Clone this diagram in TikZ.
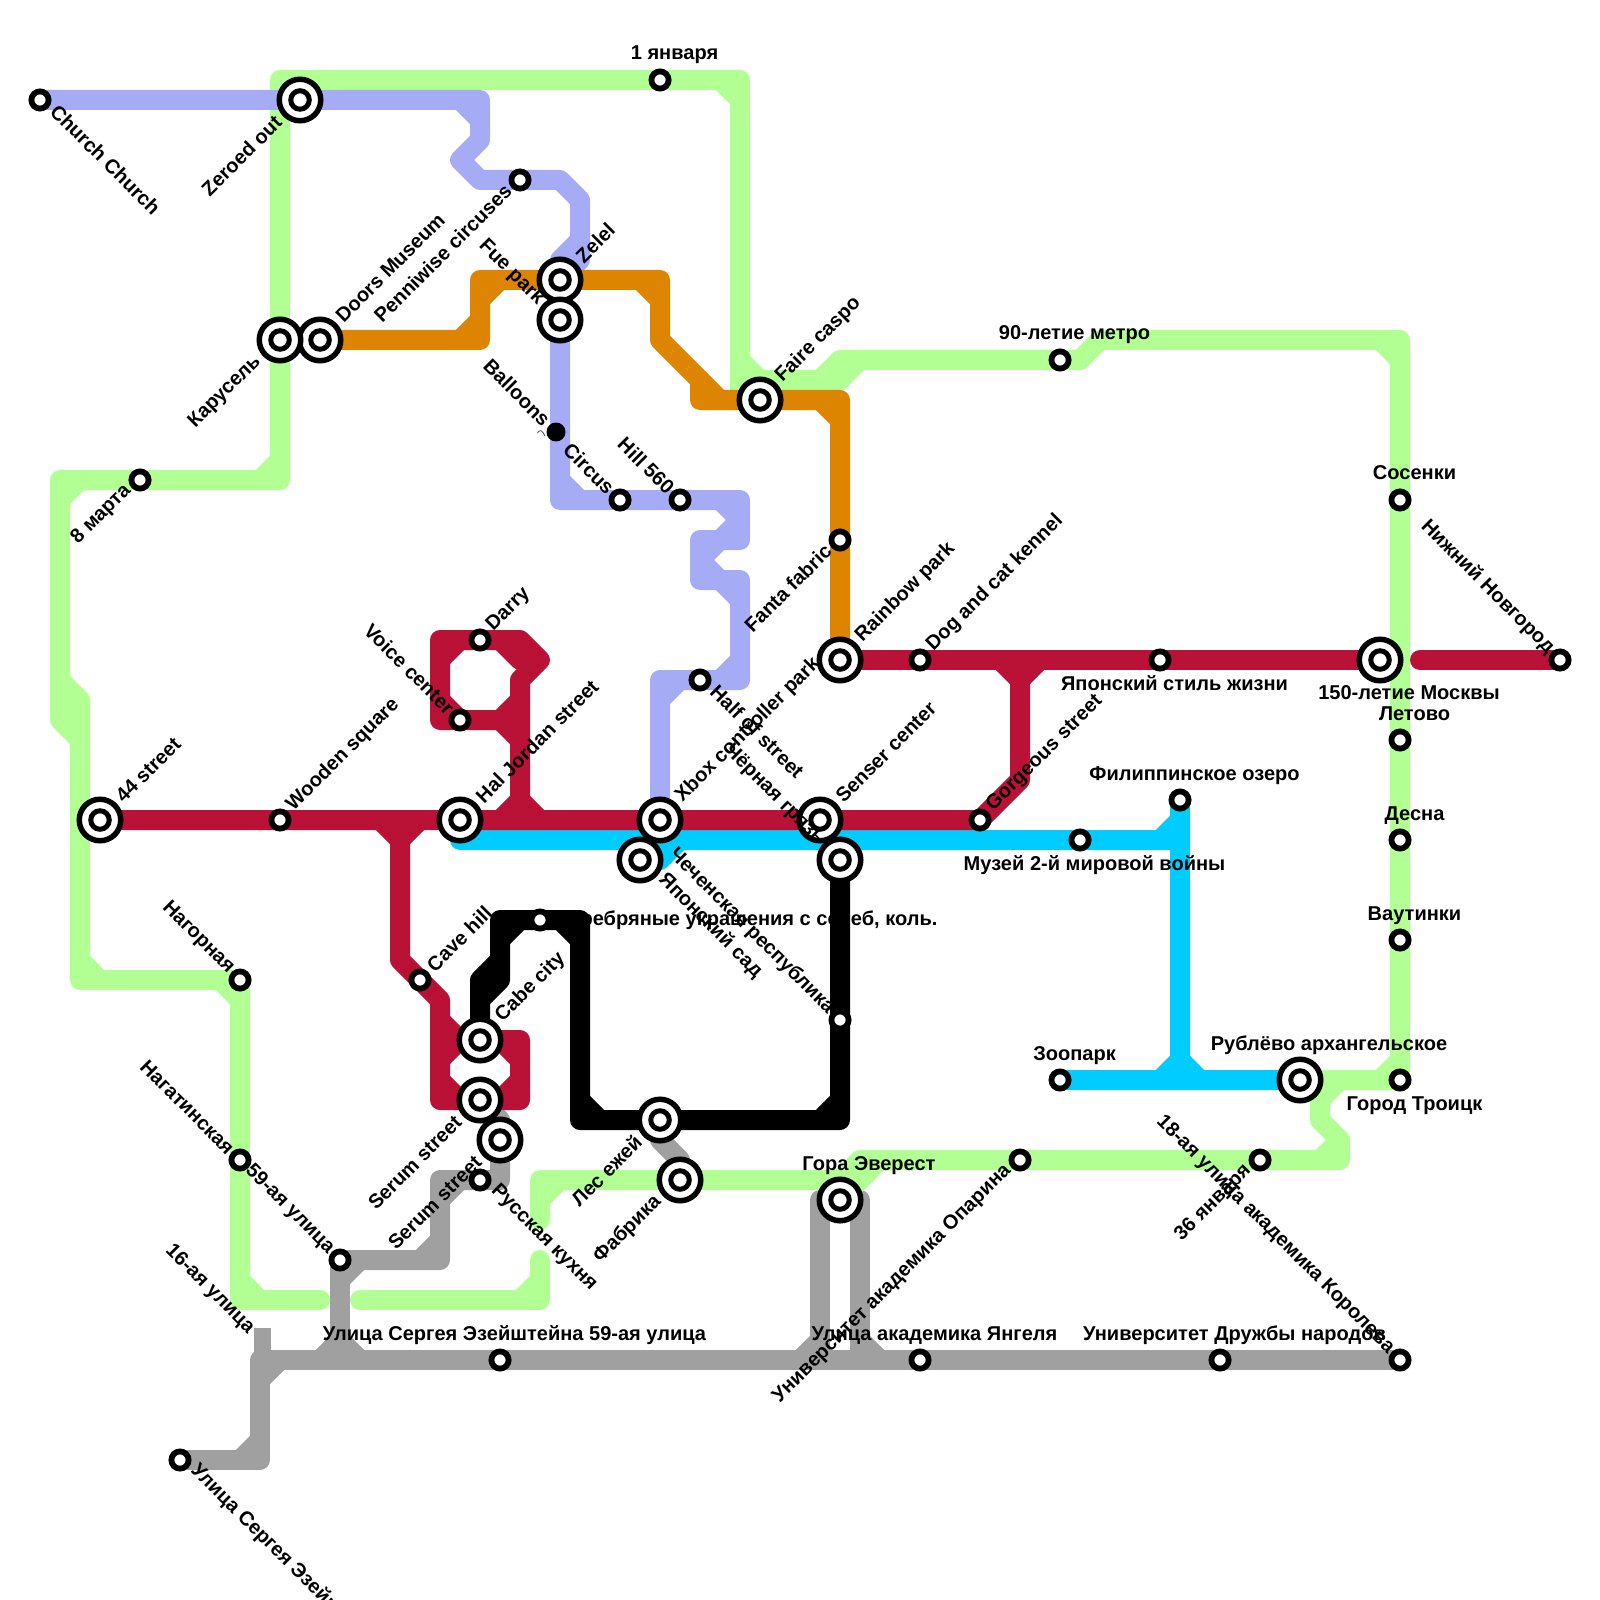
\documentclass[tikz,border=0pt]{standalone}
\usepackage{fontspec}
\setmainfont{Liberation Sans}
\usetikzlibrary{backgrounds}

\definecolor{metrogreen}{HTML}{B2FF94}
\definecolor{metroblue}{HTML}{A6ABF5}
\definecolor{metroorange}{HTML}{DD8500}
\definecolor{metrored}{HTML}{BA1137}
\definecolor{metrocyan}{HTML}{00CCFF}
\definecolor{metrogrey}{HTML}{A0A0A0}

\tikzset{
  route/.style={draw=#1, line width=2mm, line cap=round, line join=round},
  stop/.style={circle, draw=black, fill=white, line width=.58mm, inner sep=0, outer sep=0, minimum size=1.72mm},
  hubinner/.style={circle, draw=black, fill=white, line width=.5mm, inner sep=0, outer sep=0, minimum size=1.85mm},
  hub/.style={circle, draw=black, fill=white, line width=.55mm, inner sep=0, outer sep=0, minimum size=4.15mm,
    label={[hubinner]center:}},
  lbl/.style={inner sep=0, outer sep=0, font=\fontsize{5.7}{6}\selectfont\bfseries},
  lur/.style={lbl, xshift=1mm, yshift=1.2mm, rotate=45, anchor=west},
  lurb/.style={lbl, xshift=1.9mm, yshift=2.1mm, rotate=45, anchor=west},
  ldr/.style={lbl, xshift=1.4mm, yshift=-.8mm, rotate=-45, anchor=west},
  ldrb/.style={lbl, xshift=2.2mm, yshift=-1.7mm, rotate=-45, anchor=west},
  lul/.style={lbl, xshift=-.9mm, yshift=.95mm, rotate=-45, anchor=east},
  lulb/.style={lbl, xshift=-1.9mm, yshift=1.8mm, rotate=-45, anchor=east},
  ldl/.style={lbl, xshift=-1.2mm, yshift=-.8mm, rotate=45, anchor=east},
  ldlb/.style={lbl, xshift=-2.2mm, yshift=-1.9mm, rotate=45, anchor=east},
  ltop/.style={lbl, xshift=1.45mm, yshift=2mm, anchor=base},
  ltopb/.style={lbl, xshift=2.9mm, yshift=3mm, anchor=base},
  lbot/.style={lbl, xshift=1.45mm, yshift=-3.05mm, anchor=base},
  lbotb/.style={lbl, xshift=2.9mm, yshift=-3.95mm, anchor=base},
}

\begin{document}
\begin{tikzpicture}[x=2mm, y=-2mm]
  \useasboundingbox (0,0) rectangle (80,80);

  % stations
  \node[stop] (church) at (2,5) {};
  \node[hub] (zeroed) at (15,5) {};
  \node[stop] (jan) at (33,4) {};
  \node[stop] (penny) at (26,9) {};
  \node[hub] (zelel) at (28,14) {};
  \node[hub] (fue) at (28,16) {};
  \node[hub] (doors) at (16,17) {};
  \node[hub] (carousel) at (14,17) {};
  \node[stop] (march) at (7,24) {};
  \node[circle, fill=black, inner sep=0, minimum size=1.9mm] (balloon) at (27.8,21.6) {};
  \node[stop] (circus) at (31,25) {};
  \node[stop] (hill) at (34,25) {};
  \node[hub] (faire) at (38,20) {};
  \node[stop] (fanta) at (42,27) {};
  \node[hub] (rainbow) at (42,33) {};
  \node[stop] (dogcat) at (46,33) {};
  \node[stop] (japstyle) at (58,33) {};
  \node[hub] (moscow) at (69,33) {};
  \node[stop] (nizhny) at (78,33) {};
  \node[stop] (metro) at (53,18) {};
  \node[stop] (sosenki) at (70,25) {};
  \node[stop] (letovo) at (70,37) {};
  \node[stop] (desna) at (70,42) {};
  \node[stop] (vatut) at (70,47) {};
  \node[stop] (troitsk) at (70,54) {};
  \node[hub] (rublevo) at (65,54) {};
  \node[stop] (zoo) at (53,54) {};
  \node[stop] (filip) at (59,40) {};
  \node[stop] (museum) at (54,42) {};
  \node[stop] (gorgeous) at (49,41) {};
  \node[hub] (senser) at (41,41) {};
  \node[hub] (xbox) at (33,41) {};
  \node[stop] (half) at (35,34) {};
  \node[hub] (mud) at (42,43) {};
  \node[stop] (chechen) at (42,51) {};
  \node[hub] (garden) at (32,43) {};
  \node[stop] (silver) at (27,46) {};
  \node[hub] (st44) at (5,41) {};
  \node[stop] (wooden) at (14,41) {};
  \node[hub] (jordan) at (23,41) {};
  \node[stop] (darry) at (24,32) {};
  \node[stop] (voice) at (23,36) {};
  \node[stop] (cave) at (21,49) {};
  \node[hub] (cabe) at (24,52) {};
  \node[hub] (serum) at (24,55) {};
  \node[hub] (serumb) at (25,57) {};
  \node[stop] (kitchen) at (24,59) {};
  \node[hub] (hedgehog) at (33,56) {};
  \node[hub] (factory) at (34,59) {};
  \node[hub] (everest) at (42,60) {};
  \node[stop] (oparin) at (51,58) {};
  \node[stop] (jan36) at (63,58) {};
  \node[stop] (korolev) at (70,68) {};
  \node[stop] (univ) at (61,68) {};
  \node[stop] (yangel) at (46,68) {};
  \node[stop] (eisen) at (25,68) {};
  \node[stop] (st59) at (17,63) {};
  \node[stop] (nagat) at (12,58) {};
  \node[stop] (nagorn) at (12,49) {};
  \coordinate (st16) at (13,67);
  \node[stop] (sergey) at (9,73) {};

  % names
  \node[ldr] (lchurch) at (church) {Church Church};
  \node[ldlb] (lzeroed) at (zeroed) {Zeroed out};
  \node[ltop] (ljan) at (jan) {1 января};
  \node[ldl] (lpenny) at (penny) {Penniwise circuses};
  \node[lurb] (lzelel) at (zelel) {Zelel};
  \node[lulb] (lfue) at (fue) {Fue park};
  \node[lurb] (ldoors) at (doors) {Doors Museum};
  \node[ldlb] (lcarousel) at (carousel) {Карусель};
  \node[ldl] (lmarch) at (march) {8 марта};
  \node[lul] (lballoon) at (balloon) {Balloons};
  \node[lul] (lcircus) at (circus) {Circus};
  \node[lul] (lhill) at (hill) {Hill 560};
  \node[lurb] (lfaire) at (faire) {Faire caspo};
  \node[ldl] (lfanta) at (fanta) {Fanta fabric};
  \node[lurb] (lrainbow) at (rainbow) {Rainbow park};
  \node[lur] (ldogcat) at (dogcat) {Dog and cat kennel};
  \node[lbot] (ljapstyle) at (japstyle) {Японский стиль жизни};
  \node[lbotb] (lmoscow) at (moscow) {150-летие Москвы};
  \node[lul] (lnizhny) at (nizhny) {Нижний Новгород};
  \node[ltop] (lmetro) at (metro) {90-летие метро};
  \node[ltop] (lsosenki) at (sosenki) {Сосенки};
  \node[ltop] (lletovo) at (letovo) {Летово};
  \node[ltop] (ldesna) at (desna) {Десна};
  \node[ltop] (lvatut) at (vatut) {Ваутинки};
  \node[lbot] (ltroitsk) at (troitsk) {Город Троицк};
  \node[ltopb] (lrublevo) at (rublevo) {Рублёво архангельское};
  \node[ltop] (lzoo) at (zoo) {Зоопарк};
  \node[ltop] (lfilip) at (filip) {Филиппинское озеро};
  \node[lbot] (lmuseum) at (museum) {Музей 2-й мировой войны};
  \node[lur] (lgorgeous) at (gorgeous) {Gorgeous street};
  \node[lurb] (lsenser) at (senser) {Senser center};
  \node[lurb] (lxbox) at (xbox) {Xbox controller park};
  \node[ldr] (lhalf) at (half) {Half of street};
  \node[lulb] (lmud) at (mud) {Чёрная грязь};
  \node[lul] (lchechen) at (chechen) {Чеченская республика};
  \node[ldrb] (lgarden) at (garden) {Японский сад};
  \node[lbl, anchor=base west, xshift=1.5mm, yshift=-.5mm] (lsilver) at (silver) {Серебряные украшения с сереб, коль.};
  \node[lurb] (lst44) at (st44) {44 street};
  \node[lur] (lwooden) at (wooden) {Wooden square};
  \node[lurb] (ljordan) at (jordan) {Hal Jordan street};
  \node[lur] (ldarry) at (darry) {Darry};
  \node[lul] (lvoice) at (voice) {Voice center};
  \node[lur] (lcave) at (cave) {Cave hill};
  \node[lurb] (lcabe) at (cabe) {Cabe city};
  \node[ldlb] (lserum) at (serum) {Serum street};
  \node[ldlb] (lserumb) at (serumb) {Serum street};
  \node[ldr] (lkitchen) at (kitchen) {Русская кухня};
  \node[ldlb] (lhedgehog) at (hedgehog) {Лес ежей};
  \node[ldlb] (lfactory) at (factory) {Фабрика};
  \node[ltopb] (leverest) at (everest) {Гора Эверест};
  \node[ldl] (loparin) at (oparin) {Университет академика Опарина};
  \node[ldl] (ljan36) at (jan36) {36 января};
  \node[lul] (lkorolev) at (korolev) {18-ая улица академика Королева};
  \node[ltop] (luniv) at (univ) {Университет Дружбы народов};
  \node[ltop] (lyangel) at (yangel) {Улица академика Янгеля};
  \node[ltop] (leisen) at (eisen) {Улица Сергея Эзейштейна 59-ая улица};
  \node[lul] (lst59) at (st59) {59-ая улица};
  \node[lul] (lnagat) at (nagat) {Нагатинская};
  \node[lul] (lnagorn) at (nagorn) {Нагорная};
  \node[lul] (lst16) at (st16) {16-ая улица};
  \node[ldr] (lsergey) at (sergey) {Улица Сергея Эзейштейна};

  \begin{scope}[on background layer]
    % grey
    \draw[route=metrogrey] (sergey.center) -- (13,73) -- (13,68) -- (eisen.center) -- (yangel.center) -- (univ.center) -- (korolev.center);
    \draw[route=metrogrey] (st59.center) -- (17,68);
    \draw[route=metrogrey] (st59.center) -- (22,63) -- (22,59) -- (kitchen.center) -- (25,59) -- (serumb.center) -- (25,56) -- (serum.center);
    \draw[route=metrogrey] (41,68) -- (41,60) -- (everest.center) -- (43,60) -- (43,68);
    \draw[route=metrogrey] (hedgehog.center) -- (33,57) -- (34,58) -- (factory.center);
    \draw[route=metrogrey] (13,72) -- (12,73) (14,68) -- (13,69) (16,68) -- (17,67) -- (18,68) (18,63) -- (17,64)
      (22,62) -- (21,63) (23,59) -- (22,60) (40,68) -- (41,67) (43,67) -- (44,68);
    \fill[metrogrey] (12.7,66.4) rectangle (13.55,68);
    % green
    \draw[route=metrogreen] (16,65) -- (12,65) -- (nagat.center) -- (nagorn.center) -- (4,49) -- (4,35) -- (3,34);
    \draw[route=metrogreen] (4,37) -- (3,36) -- (3,24) -- (march.center) -- (14,24) -- (carousel.center) -- (14,4) -- (jan.center) -- (37,4) -- (37,20) -- (faire.center);
    \draw[route=metrogreen] (37,18) -- (38,19) -- (41,19) -- (42,18) -- (metro.center) -- (54,18) -- (55,17) -- (70,17)
      -- (sosenki.center) -- (letovo.center) -- (desna.center) -- (vatut.center) -- (troitsk.center) -- (rublevo.center);
    \draw[route=metrogreen] (41,20) -- (43,18);
    \draw[route=metrogreen] (66,54) -- (66,56) -- (67,57) -- (67,58) -- (jan36.center) -- (oparin.center) -- (43,58) -- (42,59) -- (factory.center) -- (27,59) -- (27,61);
    \draw[route=metrogreen] (44,58) -- (everest.center);
    \draw[route=metrogreen] (18,65) -- (27,65) -- (27,63);
    \draw[route=metrogreen] (13,65) -- (12,64) (4,48) -- (5,49) (11,49) -- (12,50) (4,24) -- (3,25) (14,23) -- (13,24)
      (36,4) -- (37,5) (69,17) -- (70,18) (69,54) -- (70,53) (67,54) -- (66,55) (67,57) -- (66,58)
      (26,65) -- (27,64) (27,60) -- (28,59);
    % blue
    \draw[route=metroblue] (church.center) -- (zeroed.center) -- (24,5) -- (24,7) -- (23,8) -- (24,9) -- (penny.center) -- (28,9) -- (29,10) -- (29,13) -- (zelel.center);
    \draw[route=metroblue] (29,12) -- (28,13) -- (zelel.center) -- (fue.center) -- (28,25) -- (circus.center) -- (hill.center) -- (37,25) -- (37,27)
      -- (35,27) -- (35,29) -- (37,29) -- (37,34) -- (half.center) -- (33,34) -- (xbox.center);
    \draw[route=metroblue] (23,5) -- (24,6) (28,24) -- (29,25) (36,25) -- (37,26) -- (36,27) -- (35,28) -- (36,29) -- (37,30)
      (37,33) -- (36,34) (34,34) -- (33,35);
    % orange
    \draw[route=metroorange] (doors.center) -- (24,17) -- (24,14) -- (zelel.center) -- (33,14) -- (33,17) -- (35,19) -- (35,20) -- (faire.center) -- (42,20) -- (fanta.center) -- (rainbow.center);
    \draw[route=metroorange] (35,19) -- (36,20) (23,17) -- (24,16) (24,15) -- (25,14) (32,14) -- (33,15) (41,20) -- (42,21);
    % cyan
    \draw[route=metrocyan] (23,42) -- (museum.center) -- (59,42);
    \draw[route=metrocyan] (filip.center) -- (59,54);
    \draw[route=metrocyan] (zoo.center) -- (rublevo.center);
    \draw[route=metrocyan] (garden.center) -- (33,43) -- (34,42);
    \draw[route=metrocyan] (58,42) -- (59,41) (58,54) -- (59,53) -- (60,54);
    % black
    \draw[route=black] (mud.center) -- (chechen.center) -- (42,56) -- (hedgehog.center) -- (29,56) -- (29,46) -- (silver.center) -- (25,46) -- (25,49) -- (24,50) -- (cabe.center);
    \draw[route=black] (25,48) -- (24,49) -- (24,50);
    \draw[route=black] (42,55) -- (41,56) (29,55) -- (30,56) (28,46) -- (29,47) (25,47) -- (26,46);
    % red
    \draw[route=metrored] (st44.center) -- (wooden.center) -- (jordan.center) -- (xbox.center) -- (senser.center) -- (gorgeous.center) -- (51,39) -- (51,33);
    \draw[route=metrored] (rainbow.center) -- (dogcat.center) -- (japstyle.center) -- (moscow.center);
    \draw[route=metrored] (71,33) -- (nizhny.center);
    \draw[route=metrored] (50,33) -- (51,34) -- (52,33);
    \draw[route=metrored] (26,41) -- (26,34) -- (27,33) -- (26,32) -- (darry.center) -- (22,32) -- (22,36) -- (voice.center) -- (26,36);
    \draw[route=metrored] (25,41) -- (26,40) -- (27,41) (22,33) -- (23,32) (25,32) -- (26,33) (26,35) -- (25,36) -- (26,37) (22,35) -- (23,36);
    \draw[route=metrored] (20,41) -- (20,48) -- (cave.center) -- (22,50) -- (22,55) -- (serum.center) -- (26,55) -- (26,52) -- (cabe.center);
    \draw[route=metrored] (19,41) -- (20,42) -- (21,41) (22,51) -- (23,52) -- (cabe.center) (22,53) -- (23,52) (22,54) -- (23,55) (25,52) -- (26,53) (26,54) -- (25,55);
  \end{scope}

  % little tail of the balloon
  \draw[line width=.08mm, black!70] (26.87,21.65) .. controls (27,21.45) and (27.1,21.5) .. (27.25,21.8);
\end{tikzpicture}
\end{document}
